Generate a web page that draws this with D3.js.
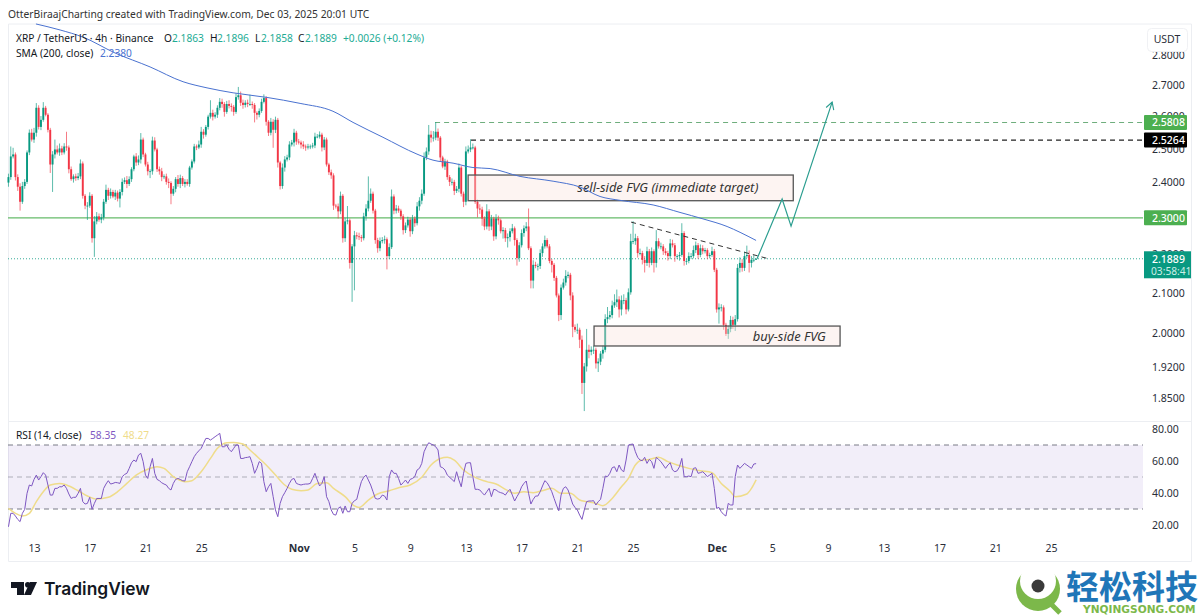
<!DOCTYPE html>
<html>
<head>
<meta charset="utf-8">
<script src="https://cdn.jsdelivr.net/npm/d3@7"></script>
<style>
  body { margin: 0; background: #fff; }
  svg { display: block; }
  text { font-family: "Noto Sans", sans-serif; }
  .tick text { font-family: "Noto Sans", sans-serif; font-size: 10.5px; fill: #2a2e39; }
</style>
</head>
<body>
<svg id="chart" width="1200" height="615"></svg>
<script>
// 4h XRP/USDT bars. open of a bar = close of the one before
const firstBar = Date.UTC(2025, 9, 11, 4);
const firstOpen = 2.400;
const closes = [
  2.416,2.477,2.483,2.416,2.388,2.345,2.390,2.402,2.489,2.549,2.528,2.549,2.627,2.567,2.589,2.627,2.605,2.558,2.453,2.483,
  2.498,2.489,2.501,2.489,2.507,2.504,2.439,2.410,2.418,2.413,2.418,2.456,2.362,2.334,2.334,2.362,2.244,2.290,2.304,2.295,
  2.301,2.345,2.379,2.362,2.373,2.360,2.371,2.354,2.373,2.402,2.407,2.396,2.410,2.439,2.477,2.459,2.468,2.528,2.483,2.453,
  2.433,2.433,2.525,2.498,2.439,2.433,2.416,2.418,2.402,2.399,2.368,2.382,2.410,2.396,2.413,2.396,2.402,2.396,2.444,2.462,
  2.507,2.504,2.513,2.552,2.543,2.567,2.599,2.611,2.599,2.605,2.627,2.646,2.639,2.614,2.639,2.633,2.630,2.614,2.661,2.667,
  2.643,2.636,2.643,2.639,2.639,2.636,2.611,2.605,2.617,2.646,2.658,2.583,2.549,2.583,2.558,2.589,2.459,2.390,2.444,2.468,
  2.474,2.513,2.519,2.549,2.522,2.519,2.513,2.507,2.504,2.507,2.507,2.510,2.537,2.537,2.543,2.504,2.528,2.453,2.430,2.421,
  2.334,2.332,2.318,2.362,2.244,2.290,2.293,2.178,2.222,2.252,2.249,2.247,2.244,2.304,2.326,2.348,2.368,2.320,2.239,2.217,
  2.236,2.239,2.241,2.196,2.220,2.360,2.320,2.326,2.320,2.304,2.266,2.279,2.295,2.263,2.298,2.285,2.332,2.348,2.368,2.474,
  2.492,2.543,2.534,2.534,2.552,2.534,2.474,2.447,2.462,2.416,2.402,2.402,2.376,2.382,2.444,2.368,2.345,2.492,2.498,2.504,
  2.504,2.345,2.326,2.323,2.298,2.276,2.318,2.276,2.298,2.249,2.298,2.293,2.263,2.266,2.244,2.247,2.263,2.271,2.239,2.191,
  2.225,2.258,2.271,2.276,2.217,2.132,2.173,2.170,2.170,2.204,2.222,2.239,2.222,2.183,2.173,2.139,2.094,2.045,2.114,2.127,
  2.144,2.147,2.094,2.016,2.009,2.009,1.985,1.884,1.922,1.961,1.956,1.961,1.961,1.929,1.933,1.952,1.961,2.035,2.040,2.045,
  2.069,2.077,2.084,2.059,2.082,2.082,2.059,2.102,2.236,2.236,2.244,2.204,2.204,2.186,2.178,2.209,2.178,2.209,2.178,2.236,
  2.222,2.222,2.209,2.204,2.196,2.230,2.225,2.196,2.196,2.199,2.258,2.183,2.183,2.196,2.196,2.212,2.225,2.199,2.217,2.209,
  2.212,2.196,2.199,2.209,2.160,2.059,2.064,2.064,2.021,1.999,2.011,2.033,2.021,2.035,2.165,2.178,2.165,2.196,2.199,2.178,
  2.186,2.1863,2.1889
];
// how far each wick sticks out of the body, in USDT
const upperWicks = [
  .010,.030,.020,.006,.008,.010,.012,.008,.006,.010,.012,.015,.015,.008,.012,.018,.006,.005,.006,.010,
  .030,.012,.015,.008,.010,.045,.006,.008,.006,.008,.010,.012,.006,.005,.010,.010,.005,.015,.012,.008,
  .010,.008,.015,.006,.010,.006,.008,.006,.008,.010,.008,.012,.008,.006,.005,.010,.012,.020,.006,.005,
  .008,.006,.012,.010,.005,.008,.010,.006,.008,.010,.005,.008,.006,.012,.010,.006,.008,.008,.005,.006,
  .008,.006,.012,.015,.008,.006,.006,.040,.010,.008,.008,.012,.010,.006,.010,.012,.008,.006,.012,.027,
  .012,.010,.008,.010,.030,.008,.006,.005,.008,.010,.012,.006,.005,.012,.008,.010,.006,.005,.012,.010,
  .008,.010,.008,.012,.006,.008,.006,.010,.006,.008,.006,.008,.012,.008,.010,.006,.008,.006,.005,.008,
  .006,.005,.008,.012,.005,.010,.040,.005,.006,.012,.008,.010,.006,.010,.012,.070,.015,.006,.005,.006,
  .010,.008,.010,.005,.010,.020,.006,.010,.008,.005,.006,.008,.008,.005,.010,.006,.012,.010,.012,.015,
  .012,.030,.012,.020,.030,.010,.005,.005,.008,.005,.006,.010,.006,.008,.012,.005,.006,.015,.012,.025,
  .012,.005,.006,.012,.008,.006,.020,.006,.010,.005,.012,.008,.005,.008,.006,.010,.008,.012,.005,.005,
  .008,.010,.008,.012,.050,.005,.012,.008,.006,.010,.008,.012,.005,.006,.005,.005,.005,.005,.008,.010,
  .015,.008,.005,.008,.006,.015,.005,.010,.008,.050,.012,.008,.010,.005,.008,.006,.010,.012,.025,.010,
  .012,.020,.025,.008,.012,.015,.006,.010,.020,.055,.012,.006,.012,.006,.010,.012,.006,.010,.005,.030,
  .008,.010,.006,.008,.006,.012,.010,.006,.005,.008,.027,.005,.006,.010,.008,.012,.010,.006,.010,.008,
  .006,.005,.006,.012,.006,.005,.010,.008,.005,.005,.008,.010,.008,.010,.010,.015,.010,.012,.025,.012,
  .010,.012,.0007
];
const lowerWicks = [
  .012,.008,.006,.010,.012,.025,.006,.008,.006,.008,.006,.010,.012,.008,.010,.006,.005,.008,.025,.080,
  .012,.006,.010,.008,.006,.010,.012,.005,.010,.008,.006,.008,.008,.010,.040,.006,.012,.050,.008,.006,
  .010,.008,.006,.012,.008,.005,.010,.008,.025,.010,.006,.012,.006,.008,.006,.010,.008,.012,.008,.006,
  .012,.020,.010,.006,.008,.010,.012,.006,.008,.015,.030,.006,.010,.008,.012,.006,.010,.005,.008,.006,
  .006,.008,.005,.010,.012,.006,.008,.006,.012,.006,.010,.008,.012,.015,.006,.008,.015,.012,.006,.008,
  .010,.012,.008,.010,.006,.012,.030,.015,.008,.006,.005,.012,.010,.008,.055,.010,.015,.010,.008,.012,
  .006,.008,.006,.012,.010,.006,.012,.008,.010,.006,.008,.006,.008,.005,.006,.012,.008,.006,.008,.010,
  .012,.006,.020,.008,.012,.010,.008,.015,.100,.115,.008,.008,.010,.006,.012,.008,.006,.008,.010,.012,
  .008,.006,.010,.035,.008,.005,.010,.008,.006,.010,.012,.008,.006,.015,.008,.010,.006,.012,.010,.006,
  .008,.010,.015,.012,.008,.010,.012,.005,.010,.008,.012,.010,.012,.006,.010,.008,.015,.010,.006,.008,
  .006,.006,.025,.012,.020,.010,.008,.012,.010,.012,.008,.012,.006,.020,.010,.025,.012,.006,.015,.020,
  .010,.006,.010,.008,.005,.020,.020,.006,.012,.008,.010,.006,.005,.006,.020,.008,.005,.015,.012,.005,
  .008,.006,.012,.025,.006,.010,.020,.025,.063,.012,.015,.008,.010,.012,.020,.008,.012,.006,.010,.006,
  .008,.006,.012,.020,.015,.010,.012,.005,.006,.008,.010,.012,.006,.012,.025,.008,.012,.006,.025,.012,
  .006,.008,.010,.006,.012,.008,.006,.015,.008,.012,.005,.012,.010,.006,.008,.006,.008,.010,.006,.008,
  .006,.008,.006,.005,.006,.008,.035,.010,.012,.005,.012,.008,.010,.015,.006,.012,.010,.008,.005,.025,
  .012,.006,.0005
];

// SMA 200, sampled along the blue line (days counted from Oct 13)
const smaDays = [.14,1.87,3.52,5.81,8.33,10.7,12.42,14.29,16.73,19.1,21.46,22.9,25.05,27.49,28.64,30.08,31.51,32.74,34.89,37.26,39.2,40.63,42.07,44.44,46.37,48.02,49.75,50.68,51.83];
const smaValues = [2.907,2.886,2.861,2.807,2.760,2.711,2.691,2.675,2.660,2.641,2.616,2.581,2.535,2.484,2.466,2.457,2.444,2.441,2.418,2.404,2.387,2.360,2.349,2.336,2.315,2.297,2.276,2.260,2.238];

// RSI per bar
const rsiValues = [
  18.9,27.3,27.3,25.6,23.5,22.1,27.3,29.8,39.8,45.0,44.4,48.5,51.2,48.1,50.2,52.7,51.2,45.0,38.7,38.7,
  42.9,42.9,43.9,43.9,45.0,42.9,39.4,36.6,37.3,37.3,39.8,42.9,34.6,33.1,33.5,37.3,29.8,33.5,36.6,36.6,
  36.6,42.9,45.6,47.7,45.6,46.0,46.6,46.4,46.0,50.2,51.6,52.3,55.4,58.9,60.6,59.6,63.7,64.8,59.6,51.2,
  49.1,56.4,61.6,52.3,48.5,47.7,46.4,45.6,45.0,42.9,41.9,46.0,48.5,49.1,48.5,47.7,47.5,53.3,56.4,59.6,
  62.7,64.8,66.4,67.9,71.0,74.1,74.1,73.1,74.1,75.2,76.2,77.3,68.9,68.9,70.0,67.3,65.8,67.9,70.0,70.0,
  61.6,61.6,62.1,62.3,62.7,58.5,52.3,55.4,59.6,58.5,47.1,40.8,43.9,46.0,37.7,29.4,25.2,33.5,37.7,40.2,
  42.9,46.0,48.5,49.1,46.0,45.4,45.0,45.4,45.6,45.6,46.0,49.1,52.3,48.1,44.4,46.0,50.2,37.7,34.6,29.4,
  26.6,26.2,30.4,31.4,27.3,31.9,28.3,28.3,33.5,35.2,36.0,41.9,47.1,49.8,51.2,48.1,45.0,40.8,36.6,36.2,
  36.6,38.7,38.1,35.6,50.2,54.4,52.3,52.3,49.1,45.0,46.4,48.1,46.0,48.5,49.1,50.2,54.4,55.4,58.5,65.8,
  68.9,71.4,70.6,70.0,68.9,66.9,56.4,55.8,54.4,51.2,49.8,48.5,47.1,53.3,48.1,43.9,52.3,58.5,58.9,58.9,
  50.2,42.3,42.3,41.9,40.2,38.7,40.8,42.9,37.7,42.3,41.9,40.8,40.2,39.8,38.7,40.8,42.3,38.7,35.0,37.7,
  40.2,43.9,46.0,47.5,39.8,33.1,36.0,38.1,38.1,40.8,44.4,47.7,46.4,43.9,40.8,36.6,32.5,28.9,38.7,42.9,
  43.9,41.9,37.7,33.1,31.0,29.4,26.2,23.5,29.4,34.6,35.0,35.0,35.2,32.5,34.6,36.0,42.9,50.6,50.2,52.3,
  55.8,56.4,53.3,57.5,54.4,53.3,60.6,70.0,70.4,70.6,65.8,62.3,60.6,60.2,62.3,58.5,61.0,59.6,55.4,62.3,
  61.0,59.6,57.5,55.4,57.5,58.9,54.4,53.3,53.9,56.4,61.6,50.2,50.2,50.6,50.2,55.4,55.8,52.3,52.7,53.3,
  51.9,50.2,51.2,52.3,42.9,30.4,31.0,28.3,26.6,25.6,33.5,32.5,32.5,50.2,57.5,55.4,56.9,58.5,57.5,56.4,
  55.4,58.1,58.35
];
// yellow RSI average, sampled along the line (bar numbers)
const rsiMaBars = [0,3,6,9,12,15,18,22,25,30,34,38,43,47,51,55,60,64,67,71,76,79,83,87,90,94,97,101,104,108,111,115,119,122,126,129,133,137,140,145,149,151,155,159,164,168,173,178,182,186,189,192,196,201,206,210,214,218,222,226,231,234,238,242,246,249,253,256,260,264,267,270,272,276,280,284,288,293,298,303,307,311,313,318,320,322];
const rsiMaValues = [30.4,27.3,25.6,27.3,34.6,40.8,45,46,45,41.4,38.1,36.2,37.3,40.8,46,51.2,54.8,56.4,55.4,50.2,47.1,47.7,53.3,61.6,67.9,71.4,71.6,70.6,66.9,61.6,57.5,51.2,45,42.3,41.4,41.9,46,46.4,42.9,37.7,31.9,31,35.6,39.4,41.4,43.3,45,49.8,57.5,61.6,62.3,60.6,54.4,49.8,47.1,45.6,42.3,39.8,40.8,40.2,41.9,42.9,39.8,39.8,35.6,34.6,33.5,32.1,36.6,43.9,49.1,57.5,60.2,61,62.3,59.6,57.5,55.4,53.9,52.7,46,40.8,37.7,39.4,42.9,48.27];

const priceTicks = [2.8,2.7,2.6,2.5,2.4,2.3,2.2,2.1,2.0,1.92,1.85];
const rsiTicks = [80,60,40,20];
const rsiBands = [70,50,30];
const dateTicks = [[2025,9,13],[2025,9,17],[2025,9,21],[2025,9,25],[2025,10,1],[2025,10,5],[2025,10,9],[2025,10,13],[2025,10,17],[2025,10,21],[2025,10,25],[2025,11,1],[2025,11,5],[2025,11,9],[2025,11,13],[2025,11,17],[2025,11,21],[2025,11,25]];

// drawings on the chart, in days from Oct 13 and USDT
const sellBox = {days: [31.16, 54.5], prices: [2.422, 2.348], label: "sell-side FVG (immediate target)", labelDay: 39.0};
const buyBox = {days: [40.2, 57.86], prices: [2.018, 1.970], label: "buy-side FVG", labelDay: 51.6};
const trendDays = [42.86, 52.62], trendPrices = [2.288, 2.190];
const arrowDays = [51.9, 53.7, 54.34, 57.29], arrowPrices = [2.1889, 2.353, 2.277, 2.645];

const green = "#089981", red = "#f23645";
const svg = d3.select("#chart");

const day = d => new Date(Date.UTC(2025, 9, 13) + d * 864e5);
const x = d3.scaleUtc().domain([Date.UTC(2025, 9, 13), Date.UTC(2025, 11, 25)]).range([34, 1051]);
const y = d3.scaleLog().domain([2.8, 1.85]).range([55, 398]);
const rsiY = d3.scaleLinear().domain([80, 20]).range([429, 525]);
const left = 8, right = 1143;

const bars = closes.map((c, i) => {
  const o = i ? closes[i - 1] : firstOpen;
  return {
    t: new Date(firstBar + i * 4 * 36e5), o, c,
    h: Math.max(o, c) + upperWicks[i],
    l: Math.min(o, c) - lowerWicks[i]
  };
});

// frame
svg.append("path").attr("fill", "none").attr("stroke", "#eceef2")
  .attr("d", "M8.5,24H1191.5V561.5H8.5Z M8.5,421.5H1191.5");

// axes first, the coloured price tags sit on top of them
function cleanAxis(g) {
  g.select(".domain").remove();
  g.selectAll(".tick line").remove();
}
svg.append("g").attr("transform", `translate(${right},0)`)
  .call(d3.axisRight(y).tickValues(priceTicks).tickSize(0).tickPadding(9).tickFormat(d3.format(".4f")))
  .call(cleanAxis);
svg.append("g").attr("transform", `translate(${right},0)`)
  .call(d3.axisRight(rsiY).tickValues(rsiTicks).tickSize(0).tickPadding(9).tickFormat(d3.format(".2f")))
  .call(cleanAxis);
svg.append("g").attr("transform", "translate(0,541)")
  .call(d3.axisBottom(x).tickValues(dateTicks.map(d => new Date(Date.UTC(d[0], d[1], d[2])))).tickSize(0).tickPadding(4)
    .tickFormat(d => d.getUTCDate() === 1 ? d3.utcFormat("%b")(d) : d.getUTCDate()))
  .call(cleanAxis)
  .selectAll("text").style("font-weight", d => d.getUTCDate() === 1 ? 700 : 400);

// horizontal levels
svg.append("line").attr("x1", left).attr("x2", right).attr("y1", y(2.1889)).attr("y2", y(2.1889))
  .attr("stroke", green).attr("stroke-dasharray", "1 2").attr("opacity", 0.8);
svg.append("line").attr("x1", left).attr("x2", right).attr("y1", y(2.3)).attr("y2", y(2.3))
  .attr("stroke", "#66bb6a").attr("stroke-width", 1.2);
svg.append("line").attr("x1", x(day(28.79))).attr("x2", right).attr("y1", y(2.5808)).attr("y2", y(2.5808))
  .attr("stroke", "#6fae7d").attr("stroke-width", 1.1).attr("stroke-dasharray", "5 4");
svg.append("line").attr("x1", x(day(31.37))).attr("x2", right).attr("y1", y(2.5264)).attr("y2", y(2.5264))
  .attr("stroke", "#222").attr("stroke-width", 1.2).attr("stroke-dasharray", "5 4");

// candles
const candle = svg.append("g").selectAll("g").data(bars).join("g");
candle.append("line")
  .attr("x1", d => x(d.t)).attr("x2", d => x(d.t))
  .attr("y1", d => y(d.h)).attr("y2", d => y(d.l))
  .attr("stroke", d => d.c >= d.o ? green : red).attr("stroke-width", 1).attr("opacity", 0.65);
candle.append("rect")
  .attr("x", d => x(d.t) - 0.95).attr("width", 1.9)
  .attr("y", d => y(Math.max(d.o, d.c)))
  .attr("height", d => Math.max(0.8, y(Math.min(d.o, d.c)) - y(Math.max(d.o, d.c))))
  .attr("fill", d => d.c >= d.o ? green : red);

// FVG boxes
for (const box of [sellBox, buyBox]) {
  const x0 = x(day(box.days[0])), x1 = x(day(box.days[1]));
  const y0 = y(box.prices[0]), y1 = y(box.prices[1]);
  svg.append("rect").attr("x", x0).attr("y", y0).attr("width", x1 - x0).attr("height", y1 - y0)
    .attr("fill", "#f9e4df").attr("fill-opacity", 0.4).attr("stroke", "#555").attr("stroke-width", 1.3);
  svg.append("text").attr("x", x(day(box.labelDay))).attr("y", (y0 + y1) / 2 + 4.5)
    .attr("font-size", 12.9).attr("font-style", "italic").attr("fill", "#333").text(box.label);
}

// SMA
svg.append("path").datum(smaDays).attr("fill", "none").attr("stroke", "#4a72d0").attr("stroke-width", 1)
  .attr("d", d3.line().x(d => x(day(d))).y((d, i) => y(smaValues[i])).curve(d3.curveMonotoneX));

// trend line and projected path
svg.append("path").datum(trendDays).attr("fill", "none").attr("stroke", "#333").attr("stroke-dasharray", "5 4")
  .attr("d", d3.line().x(d => x(day(d))).y((d, i) => y(trendPrices[i])));
svg.append("defs").append("marker").attr("id", "tip").attr("viewBox", "-8 -5 9 10")
  .attr("refX", 0).attr("refY", 0).attr("markerWidth", 9).attr("markerHeight", 10)
  .attr("markerUnits", "userSpaceOnUse").attr("orient", "auto")
  .append("path").attr("d", "M-7,-4L0,0L-7,4").attr("fill", "none").attr("stroke", "#2a9d8f").attr("stroke-width", 1.1);
svg.append("path").datum(arrowDays).attr("fill", "none").attr("stroke", "#2a9d8f").attr("stroke-width", 1.2)
  .attr("marker-end", "url(#tip)")
  .attr("d", d3.line().x(d => x(day(d))).y((d, i) => y(arrowPrices[i])));

// price tags
const priceTags = [[2.5808, "#4caf50", "#fff"], [2.5264, "#000", "#fff"], [2.3, "#4caf50", "#fff"]];
for (const [v, bg, fg] of priceTags) {
  svg.append("rect").attr("x", 1144).attr("width", 43).attr("y", y(v) - 7.5).attr("height", 15).attr("rx", 1).attr("fill", bg);
  svg.append("text").attr("x", 1152).attr("y", y(v) + 4).attr("font-size", 10.5).attr("font-weight", 500).attr("fill", fg).text(d3.format(".4f")(v));
}
svg.append("rect").attr("x", 1144).attr("width", 47).attr("y", y(2.1889) - 7.5).attr("height", 27).attr("fill", green);
svg.append("text").attr("x", 1152).attr("y", y(2.1889) + 4).attr("font-size", 10.5).attr("font-weight", 500).attr("fill", "#fff").text("2.1889");
svg.append("text").attr("x", 1151).attr("y", y(2.1889) + 16).attr("font-size", 10.2).attr("fill", "#cdeee6").text("03:58:41");

svg.append("rect").attr("x", 1147.5).attr("y", 28.5).attr("width", 40).attr("height", 23).attr("rx", 4)
  .attr("fill", "#fff").attr("stroke", "#f0f1f4");
svg.append("text").attr("x", 1167).attr("y", 43).attr("text-anchor", "middle").attr("font-size", 10.5).attr("fill", "#2a2e39").text("USDT");

// RSI pane
svg.append("rect").attr("x", left).attr("width", right - left).attr("y", rsiY(70)).attr("height", rsiY(30) - rsiY(70))
  .attr("fill", "#7e57c2").attr("fill-opacity", 0.1);
svg.selectAll(".band").data(rsiBands).join("line").attr("class", "band")
  .attr("x1", left).attr("x2", right).attr("y1", d => rsiY(d)).attr("y2", d => rsiY(d))
  .attr("stroke", "#787b86").attr("stroke-dasharray", "5 4").attr("stroke-opacity", d => d === 50 ? 0.55 : 1);
svg.append("path").datum(rsiMaBars).attr("fill", "none").attr("stroke", "#efdc8a").attr("stroke-width", 1.5)
  .attr("d", d3.line().x(d => x(bars[d].t)).y((d, i) => rsiY(rsiMaValues[i])).curve(d3.curveMonotoneX));
svg.append("path").datum(rsiValues).attr("fill", "none").attr("stroke", "#7e57c2").attr("stroke-width", 1)
  .attr("d", d3.line().x((d, i) => x(bars[i].t)).y(d => rsiY(d)));

// header text
svg.append("text").attr("x", 8).attr("y", 18).attr("font-size", 10.3).attr("fill", "#333")
  .text("OtterBiraajCharting created with TradingView.com, Dec 03, 2025 20:01 UTC");
function legend(items, yPos) {
  for (const [xPos, txt, col] of items) {
    svg.append("text").attr("x", xPos).attr("y", yPos).attr("font-size", 10.2).attr("fill", col).text(txt);
  }
}
const ink = "#131722", up = "#22ab94";
legend([[16, "XRP / TetherUS · 4h · Binance", ink], [164, "O", ink], [172, "2.1863", up], [210, "H", ink], [217, "2.1896", up],
  [255, "L", ink], [261, "2.1858", up], [298, "C", ink], [305, "2.1889", up], [343, "+0.0026 (+0.12%)", up]], 41.5);
legend([[16, "SMA (200, close)", ink], [100, "2.2380", "#4a72d0"]], 56.5);
legend([[16, "RSI (14, close)", ink], [90, "58.35", "#7e57c2"], [123, "48.27", "#efdc8a"]], 439);

// TradingView logo
const logo = svg.append("g").attr("fill", "#131722");
logo.append("path").attr("d", "M11,582H24V595H17V588H11Z");
logo.append("circle").attr("cx", 27.8).attr("cy", 584.8).attr("r", 2.8);
logo.append("path").attr("d", "M30,582H37L31,595H24Z");
svg.append("text").attr("x", 44).attr("y", 594.5).style("font-family", "Inter")
  .attr("font-size", 17.4).attr("font-weight", 600).attr("fill", "#131722").text("TradingView");

// site watermark
const mark = svg.append("g");
mark.append("circle").attr("cx", 1038).attr("cy", 589).attr("r", 22).attr("fill", "#7cb84a");
mark.append("circle").attr("cx", 1038).attr("cy", 581).attr("r", 18).attr("fill", "#fff");
mark.append("path").attr("d", "M1050,603L1060,613").attr("stroke", "#7cb84a").attr("stroke-width", 5);
mark.append("circle").attr("cx", 1038).attr("cy", 586).attr("r", 6.5).attr("fill", "#3a3a3a");
svg.append("text").attr("x", 1066).attr("y", 599).style("font-family", '"Noto Sans CJK SC"')
  .attr("font-size", 33).attr("font-weight", 700).attr("fill", "#1f76b8").text("轻松科技");
svg.append("text").attr("x", 1083).attr("y", 613).style("font-family", '"DejaVu Sans"')
  .attr("font-size", 10.6).attr("font-weight", 700).attr("fill", "#7cb84a").text("YNQINGSONG.COM");
</script>
</body>
</html>
